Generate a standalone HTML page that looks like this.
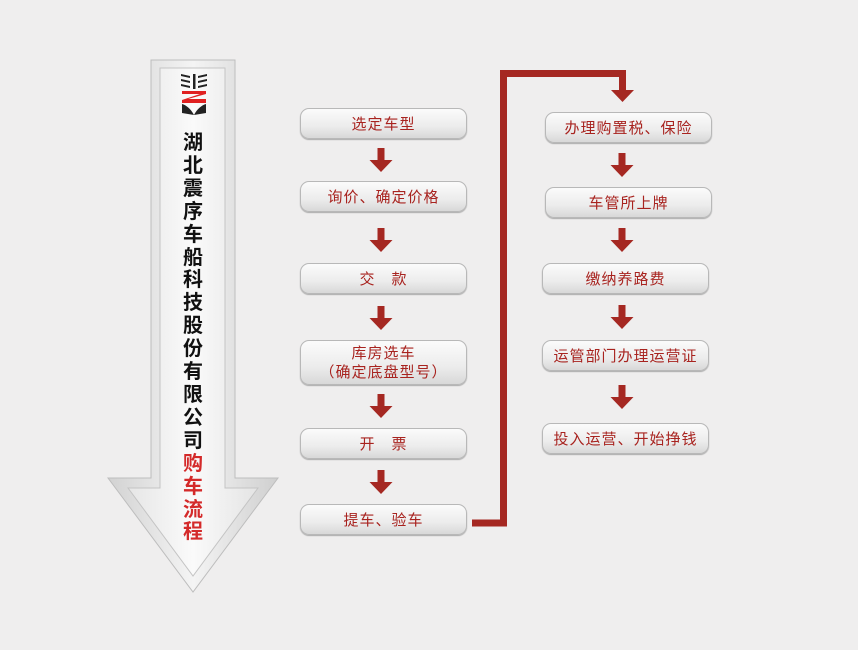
<!DOCTYPE html>
<html><head><meta charset="utf-8"><style>
body{margin:0;width:858px;height:650px;background:#efeeee;overflow:hidden;position:relative;font-family:"Liberation Sans","Noto Sans CJK SC",sans-serif}
.b{position:absolute;height:31px;border:1px solid #b8b8b8;border-radius:9px;background:linear-gradient(#fbfbfb,#ececec 60%,#d8d8d8);box-shadow:0 1px 1px #aaa;color:#a8231f;font-size:15px;text-align:center;line-height:31px;letter-spacing:1px;box-sizing:border-box}
.v{position:absolute;left:173px;width:40px;text-align:center;font-weight:bold;font-size:20px;line-height:22.9px;color:#111}
</style></head><body>
<svg width="858" height="650" style="position:absolute;left:0;top:0">
<defs><linearGradient id="g" x1="0" x2="1"><stop offset="0" stop-color="#d2d2d2"/><stop offset=".5" stop-color="#f4f4f4"/><stop offset="1" stop-color="#cfcfcf"/></linearGradient>
<linearGradient id="g2" x1="0" x2="1"><stop offset="0" stop-color="#e6e6e6"/><stop offset=".5" stop-color="#fafafa"/><stop offset="1" stop-color="#e4e4e4"/></linearGradient></defs>
<polygon points="151,60 235,60 235,478 278,478 193,592 108,478 151,478" fill="url(#g)" stroke="#bdbdbd"/>
<polygon points="160,68 225,68 225,488 258,488 193,576 128,488 160,488" fill="url(#g2)" stroke="#c4c4c4"/>
<g fill="none" stroke="#a52822" stroke-width="7">
<polyline points="472,523 503.5,523 503.5,73.5 622.5,73.5 622.5,92"/>
</g>
<g fill="#a52822">
<polygon points="611,90 634,90 622.5,102"/>
</g>
</svg>
<svg width="28" height="44" style="position:absolute;left:180px;top:72px" viewBox="0 0 28 44">
<g fill="#222">
<path d="M1 2l9 2v2L1 4zM1 7l9 2v2L1 9zM1 12l9 2v2L1 14z"/>
<path d="M27 2l-9 2v2l9-2zM27 7l-9 2v2l9-2zM27 12l-9 2v2l9-2z"/>
<rect x="13" y="2" width="2.5" height="15"/>
</g>
<path d="M2 19h24v3L8 27h18v4H2v-3l18-6H2z" fill="#e02020"/>
<path d="M2 32c4 1 9 5 12 11c3-6 8-10 12-11v9l-12 2l-12-2z" fill="#222"/>
</svg>
<div class="v" style="top:132px">湖<br>北<br>震<br>序<br>车<br>船<br>科<br>技<br>股<br>份<br>有<br>限<br>公<br>司<br><span style="color:#d42a2a">购<br>车<br>流<br>程</span></div>

<div class="b" style="left:300px;top:108px;width:167px">选定车型</div>
<div class="b" style="left:300px;top:181px;width:167px">询价、确定价格</div>
<div class="b" style="left:300px;top:263px;width:167px">交　款</div>
<div class="b" style="left:300px;top:340px;width:167px;height:45px;line-height:19px;padding-top:3px">库房选车<br>（确定底盘型号）</div>
<div class="b" style="left:300px;top:428px;width:167px">开　票</div>
<div class="b" style="left:300px;top:504px;width:167px">提车、验车</div>

<div class="b" style="left:545px;top:112px;width:167px">办理购置税、保险</div>
<div class="b" style="left:545px;top:187px;width:167px">车管所上牌</div>
<div class="b" style="left:542px;top:263px;width:167px">缴纳养路费</div>
<div class="b" style="left:542px;top:340px;width:167px">运管部门办理运营证</div>
<div class="b" style="left:542px;top:423px;width:167px">投入运营、开始挣钱</div>

<svg width="858" height="650" style="position:absolute;left:0;top:0">
<defs><g id="a"><rect x="-3.5" y="0" width="7" height="13" fill="#a52822"/><polygon points="-11.5,12 11.5,12 0,24" fill="#a52822"/></g></defs>
<use href="#a" x="381" y="148"/>
<use href="#a" x="381" y="228"/>
<use href="#a" x="381" y="306"/>
<use href="#a" x="381" y="394"/>
<use href="#a" x="381" y="470"/>
<use href="#a" x="622" y="153"/>
<use href="#a" x="622" y="228"/>
<use href="#a" x="622" y="305"/>
<use href="#a" x="622" y="385"/>
</svg>
</body></html>
